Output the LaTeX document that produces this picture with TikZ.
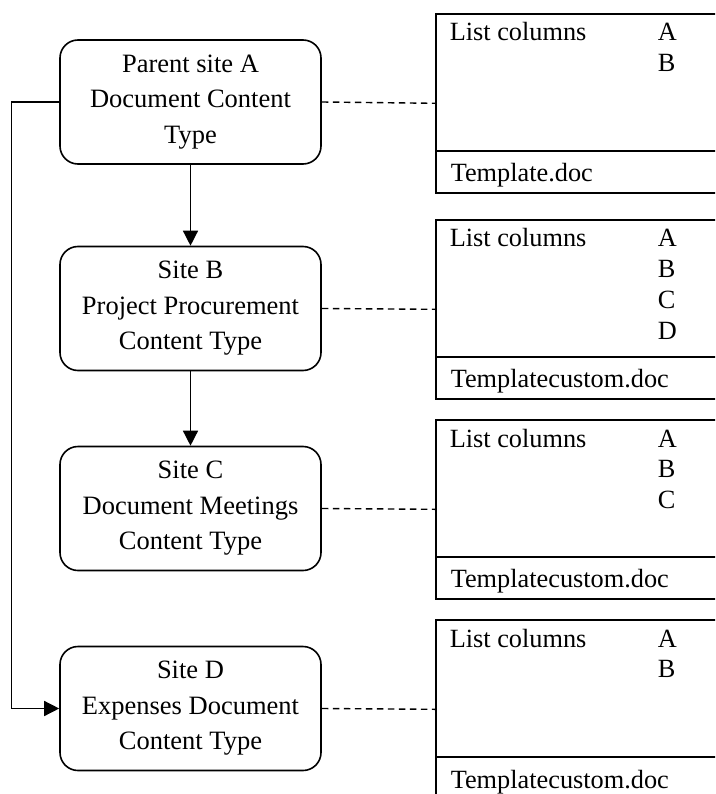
\documentclass[tikz,border=0pt]{standalone}
\usepackage{fontspec}
\setmainfont{Liberation Serif}
\usetikzlibrary{arrows.meta,calc}

\begin{document}
\begin{tikzpicture}[x=1pt,y=-1pt,
  line width=1.6pt,
  sitebox/.style={draw, rounded corners=18pt, minimum width=261pt, minimum height=124pt,
    align=center, inner sep=0pt, font=\fontsize{26.5}{35.5}\selectfont},
  listbox/.style={draw, anchor=north west, minimum width=300pt, minimum height=179pt, inner sep=0pt},
  boxtext/.style={anchor=base west, inner sep=0pt, font=\fontsize{26.3}{30.7}\selectfont},
  link/.style={line width=1.4pt, dash pattern=on 6.5pt off 4.5pt},
  flow/.style={line width=1.4pt, -{Triangle[length=15pt,width=15pt]}}
]
\useasboundingbox (0,0) rectangle (715,794);
\clip (0,0) rectangle (715,794);

% content type nodes
\node[sitebox] (a) at (190.5,102)   {Parent site A\\Document Content\\Type};
\node[sitebox] (b) at (190.5,308.5) {Site B\\Project Procurement\\Content Type};
\node[sitebox] (c) at (190.5,508.5) {Site C\\Document Meetings\\Content Type};
\node[sitebox] (d) at (190.5,708.5) {Site D\\Expenses Document\\Content Type};

% list definitions: columns above, template below the divider
\foreach \n/\t in {r1/13, r2/219, r3/419, r4/619}{
  \node[listbox] (\n) at (435,\t) {};
  \draw ($(\n.north west)+(0,138)$) -- ($(\n.north east)+(0,138)$);
  \node[boxtext] (\n-lc) at (449,\t+28) {List columns};
}
\node[boxtext] (r1-a) at (657,41)    {A};
\node[boxtext] (r1-b) at (657,71.7)  {B};
\node[boxtext] (r1-t) at (450,182)   {Template.doc};

\node[boxtext] (r2-a) at (657,247)   {A};
\node[boxtext] (r2-b) at (657,277.7) {B};
\node[boxtext] (r2-c) at (657,308.4) {C};
\node[boxtext] (r2-d) at (657,339.1) {D};
\node[boxtext] (r2-t) at (450,387)   {Templatecustom.doc};

\node[boxtext] (r3-a) at (657,447)   {A};
\node[boxtext] (r3-b) at (657,477.7) {B};
\node[boxtext] (r3-c) at (657,508.4) {C};
\node[boxtext] (r3-t) at (450,587)   {Templatecustom.doc};

\node[boxtext] (r4-a) at (657,647)   {A};
\node[boxtext] (r4-b) at (657,677.7) {B};
\node[boxtext] (r4-t) at (450,788)   {Templatecustom.doc};

% inheritance
\draw[flow] (a.south) -- (b.north);
\draw[flow] (b.south) -- (c.north);
\draw[flow] (a.west) -- ++(-48,0) |- (d.west);

% associations
\draw[link] (a.east) -- (r1.west);
\draw[link] (b.east) -- (r2.west);
\draw[link] (c.east) -- (r3.west);
\draw[link] (d.east) -- (r4.west);
\end{tikzpicture}
\end{document}
